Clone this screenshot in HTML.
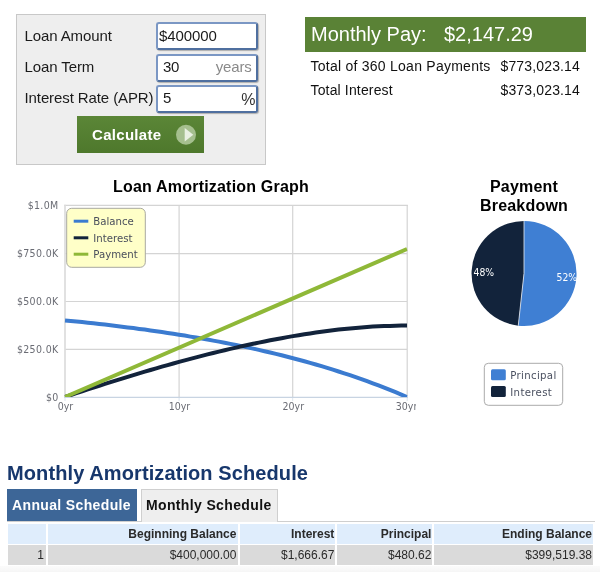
<!DOCTYPE html>
<html><head><meta charset="utf-8">
<style>
html,body{margin:0;padding:0;background:#fff;}
body{width:600px;height:572px;position:relative;overflow:hidden;font-family:"Liberation Sans",sans-serif;color:#000;}
.abs{position:absolute;}
#panel{left:16px;top:14px;width:248px;height:149px;background:#eee;border:1px solid #c8c8c8;}
.lbl{left:24.500px;font-size:15px;line-height:18px;white-space:nowrap;color:#1a1a1a;letter-spacing:-0.1px;}
.inp{left:156px;width:98px;height:24px;border:2px solid #7b97c4;border-right-color:#4f6f9f;border-bottom-color:#4f6f9f;border-radius:3px;background:#fff;box-shadow:1px 1px 1px rgba(60,60,60,.35);font-size:15px;line-height:24px;color:#1a1a1a;letter-spacing:-0.1px;}
.inp span{position:absolute;top:0;}
#btn{left:77px;top:116px;width:127px;height:37px;background:linear-gradient(#5b8637,#4e782c);color:#fff;font-weight:bold;font-size:15px;line-height:37px;letter-spacing:0.3px;}
#banner{left:304.500px;top:16.500px;width:281.500px;height:35.500px;background:#5a8236;color:#fff;font-size:20px;line-height:35px;white-space:nowrap;}
.res{font-size:14px;line-height:18px;white-space:nowrap;color:#111;letter-spacing:0.25px;}
.h2{font-weight:bold;font-size:16px;line-height:19px;text-align:center;color:#000;letter-spacing:0.2px;white-space:nowrap;}
#title{left:7px;top:461px;font-size:20px;font-weight:bold;color:#17376c;line-height:24px;white-space:nowrap;letter-spacing:0.1px;}
.tab{height:32px;line-height:32px;font-size:14px;font-weight:bold;white-space:nowrap;letter-spacing:0.36px;}
.cell{font-size:12px;line-height:20px;height:20px;text-align:right;white-space:nowrap;color:#2a2a2a;}
.hd{background:#dfedfc;font-weight:bold;top:523.500px;}
.rw{background:#dadada;top:545px;}
</style></head><body>
<div id="panel" class="abs"></div>
<div class="abs lbl" style="top:27px">Loan Amount</div>
<div class="abs lbl" style="top:58px">Loan Term</div>
<div class="abs lbl" style="top:89px">Interest Rate (APR)</div>
<div class="abs inp" style="top:22px"><span style="left:1px">$400000</span></div>
<div class="abs inp" style="top:54px"><span style="left:5px;top:-1px;letter-spacing:-0.4px">30</span><span style="right:4.5px;top:-1px;color:#8a8a8a;letter-spacing:-0.2px">years</span></div>
<div class="abs inp" style="top:85px"><span style="left:5px;top:-1px">5</span><span style="right:0.5px;top:0.5px;color:#333;font-size:16px">%</span></div>
<div id="btn" class="abs"><span class="abs" style="left:15px;top:0">Calculate</span>
<svg class="abs" style="left:98px;top:8px" width="22" height="22" viewBox="0 0 22 22"><circle cx="11" cy="10.700" r="10" fill="#a5bf8e"/><path d="M9.700 4 L18.300 10.700 L9.700 17.600 Z" fill="#e9f0e2"/></svg></div>

<div id="banner" class="abs"><span class="abs" style="left:6.500px">Monthly Pay:</span><span class="abs" style="left:139.500px">$2,147.29</span></div>
<div class="abs res" style="left:310.500px;top:57px">Total of 360 Loan Payments</div>
<div class="abs res" style="right:20px;top:57px;letter-spacing:0.15px">$773,023.14</div>
<div class="abs res" style="left:310.500px;top:81px;letter-spacing:0.15px">Total Interest</div>
<div class="abs res" style="right:20px;top:81px;letter-spacing:0.15px">$373,023.14</div>

<div class="abs h2" style="left:61px;width:300px;top:177px">Loan Amortization Graph</div>
<div class="abs h2" style="left:454px;width:140px;top:177px">Payment<br>Breakdown</div>

<svg class="abs" style="left:0;top:195px" width="600" height="240" viewBox="0 195 600 240" font-family="'DejaVu Sans Condensed','DejaVu Sans',sans-serif">
<defs><clipPath id="pc"><rect x="64.500" y="205" width="343" height="192"/></clipPath><clipPath id="cc"><rect x="0" y="195" width="416" height="240"/></clipPath></defs>
<g stroke="#d4d4d4" stroke-width="1.200">
<line x1="65" x2="407" y1="253.600" y2="253.600"/><line x1="65" x2="407" y1="301.500" y2="301.500"/><line x1="65" x2="407" y1="349.300" y2="349.300"/>
<line x1="179.100" x2="179.100" y1="205" y2="397"/><line x1="292.700" x2="292.700" y1="205" y2="397"/>
<line x1="64.200" x2="407.900" y1="205.400" y2="205.400"/><line x1="407.200" x2="407.200" y1="205" y2="397"/>
</g>
<line x1="65" x2="65" y1="204.800" y2="397.500" stroke="#dcdcdc" stroke-width="1.700"/>
<line x1="64.200" x2="408" y1="397.400" y2="397.400" stroke="#c8d4e2" stroke-width="1.100"/>
<g stroke="#dde6f0" stroke-width="1"><line x1="65" x2="65" y1="398" y2="401"/><line x1="179.100" x2="179.100" y1="398" y2="401"/><line x1="292.700" x2="292.700" y1="398" y2="401"/><line x1="407.200" x2="407.200" y1="398" y2="401"/></g>
<g font-size="10.500" fill="#6a6c74" text-anchor="end" letter-spacing="0.35">
<text x="58.600" y="209.300">$1.0M</text><text x="58.600" y="257.200">$750.0K</text><text x="58.600" y="305.100">$500.0K</text><text x="58.600" y="353">$250.0K</text><text x="58.600" y="401">$0</text>
</g>
<g font-size="10.500" fill="#6a6c74" text-anchor="middle" clip-path="url(#cc)">
<text x="65.400" y="409.600">0yr</text><text x="179.500" y="409.600">10yr</text><text x="293.300" y="409.600">20yr</text><text x="406.600" y="409.600">30yr</text>
</g>
<g clip-path="url(#pc)" fill="none" stroke-width="4" stroke-linejoin="round">
<path d="M65.0 320.4L70.7 321.0L76.4 321.5L82.1 322.1L87.8 322.7L93.5 323.3L99.2 324.0L104.9 324.6L110.6 325.3L116.3 326.0L122.0 326.7L127.7 327.4L133.4 328.1L139.1 328.9L144.8 329.6L150.5 330.4L156.2 331.2L161.9 332.1L167.6 332.9L173.3 333.8L179.0 334.7L184.7 335.6L190.4 336.6L196.1 337.5L201.8 338.5L207.5 339.5L213.2 340.6L218.9 341.6L224.6 342.7L230.3 343.9L236.0 345.0L241.7 346.2L247.4 347.4L253.1 348.6L258.8 349.9L264.5 351.2L270.2 352.5L275.9 353.9L281.6 355.3L287.3 356.8L293.0 358.2L298.7 359.7L304.4 361.3L310.1 362.9L315.8 364.5L321.5 366.2L327.2 367.9L332.9 369.7L338.6 371.5L344.3 373.3L350.0 375.2L355.7 377.2L361.4 379.1L367.1 381.2L372.8 383.3L378.5 385.4L384.2 387.6L389.9 389.9L395.6 392.2L401.3 394.6L407.0 397.0" stroke="#3b7bd0"/>
<path d="M65.0 397.0L70.7 395.1L76.4 393.2L82.1 391.3L87.8 389.4L93.5 387.6L99.2 385.8L104.9 383.9L110.6 382.1L116.3 380.4L122.0 378.6L127.7 376.8L133.4 375.1L139.1 373.4L144.8 371.7L150.5 370.0L156.2 368.4L161.9 366.7L167.6 365.1L173.3 363.5L179.0 361.9L184.7 360.4L190.4 358.9L196.1 357.4L201.8 355.9L207.5 354.4L213.2 353.0L218.9 351.6L224.6 350.2L230.3 348.9L236.0 347.6L241.7 346.3L247.4 345.0L253.1 343.8L258.8 342.6L264.5 341.5L270.2 340.3L275.9 339.2L281.6 338.2L287.3 337.1L293.0 336.1L298.7 335.2L304.4 334.3L310.1 333.4L315.8 332.6L321.5 331.8L327.2 331.0L332.9 330.3L338.6 329.6L344.3 329.0L350.0 328.4L355.7 327.9L361.4 327.4L367.1 327.0L372.8 326.6L378.5 326.3L384.2 326.1L389.9 325.9L395.6 325.7L401.3 325.6L407.0 325.6" stroke="#12233b"/>
<path d="M65.0 397.0L407.0 249.0" stroke="#8fb838"/>
</g>
<rect x="66.700" y="208.300" width="78.600" height="59" rx="5" fill="#ffffc8" stroke="#a8a8a0" stroke-width="1"/>
<g stroke-width="3">
<line x1="73.700" x2="88.300" y1="221.200" y2="221.200" stroke="#3b7bd0"/><line x1="73.700" x2="88.300" y1="237.800" y2="237.800" stroke="#12233b"/><line x1="73.700" x2="88.300" y1="254.200" y2="254.200" stroke="#8fb838"/>
</g>
<g font-size="11.300" fill="#4a4f5c"><text x="93.300" y="225">Balance</text><text x="93.300" y="241.600">Interest</text><text x="93.300" y="258">Payment</text></g>
<!-- pie -->
<path d="M524 273.500 L524 221 A52.500 52.500 0 1 1 518.260 325.680 Z" fill="#3f7fd3"/>
<path d="M524 273.500 L518.260 325.680 A52.500 52.500 0 0 1 524 221 Z" fill="#12233b"/>
<path d="M524 221 L524 273.500 L518.260 325.680" fill="none" stroke="#e8eef5" stroke-width="0.800"/>
<g font-size="10.300" fill="#fff"><text x="473.500" y="276.400">48%</text><text x="556.500" y="281">52%</text></g>
<rect x="484.300" y="363.300" width="78.400" height="42" rx="4" fill="#fff" stroke="#aaa" stroke-width="1"/>
<rect x="491" y="369.300" width="14.800" height="11" rx="1.500" fill="#3f7fd3"/><rect x="491" y="386.100" width="14.800" height="11" rx="1.500" fill="#12233b"/>
<g font-size="11.300" fill="#4a5060" letter-spacing="0.33"><text x="510.300" y="379.400">Principal</text><text x="510.300" y="395.900">Interest</text></g>
</svg>

<div id="title" class="abs">Monthly Amortization Schedule</div>
<div class="abs" style="left:7px;top:521px;width:588px;height:1px;background:#cfcfcf"></div>
<div class="abs tab" style="left:6.500px;top:489px;width:130.500px;background:#3d6697;color:#fff;"><span class="abs" style="left:5.500px">Annual Schedule</span></div>
<div class="abs tab" style="left:140.500px;top:489px;width:135px;background:#eee;color:#111;border:1px solid #cfcfcf;border-bottom:none;line-height:31px"><span class="abs" style="left:4.500px">Monthly Schedule</span></div>

<div class="abs cell hd" style="left:8.400px;width:38px"></div>
<div class="abs cell hd" style="left:48px;width:188.400px;padding-right:2px">Beginning Balance</div>
<div class="abs cell hd" style="left:240.200px;width:94.200px;padding-right:1px">Interest</div>
<div class="abs cell hd" style="left:337px;width:94.400px;padding-right:1px">Principal</div>
<div class="abs cell hd" style="left:434px;width:158px;padding-right:1px">Ending Balance</div>
<div class="abs cell rw" style="left:8.400px;width:35.600px;padding-right:2.400px">1</div>
<div class="abs cell rw" style="left:48px;width:188.400px;padding-right:2px">$400,000.00</div>
<div class="abs cell rw" style="left:240.200px;width:94.200px;padding-right:1px">$1,666.67</div>
<div class="abs cell rw" style="left:337px;width:94.400px;padding-right:1px">$480.62</div>
<div class="abs cell rw" style="left:434px;width:158px;padding-right:1px">$399,519.38</div>
<div class="abs" style="left:0;top:565.5px;width:600px;height:7px;background:linear-gradient(#fbfbfb,#f5f5f5)"></div>
</body></html>
